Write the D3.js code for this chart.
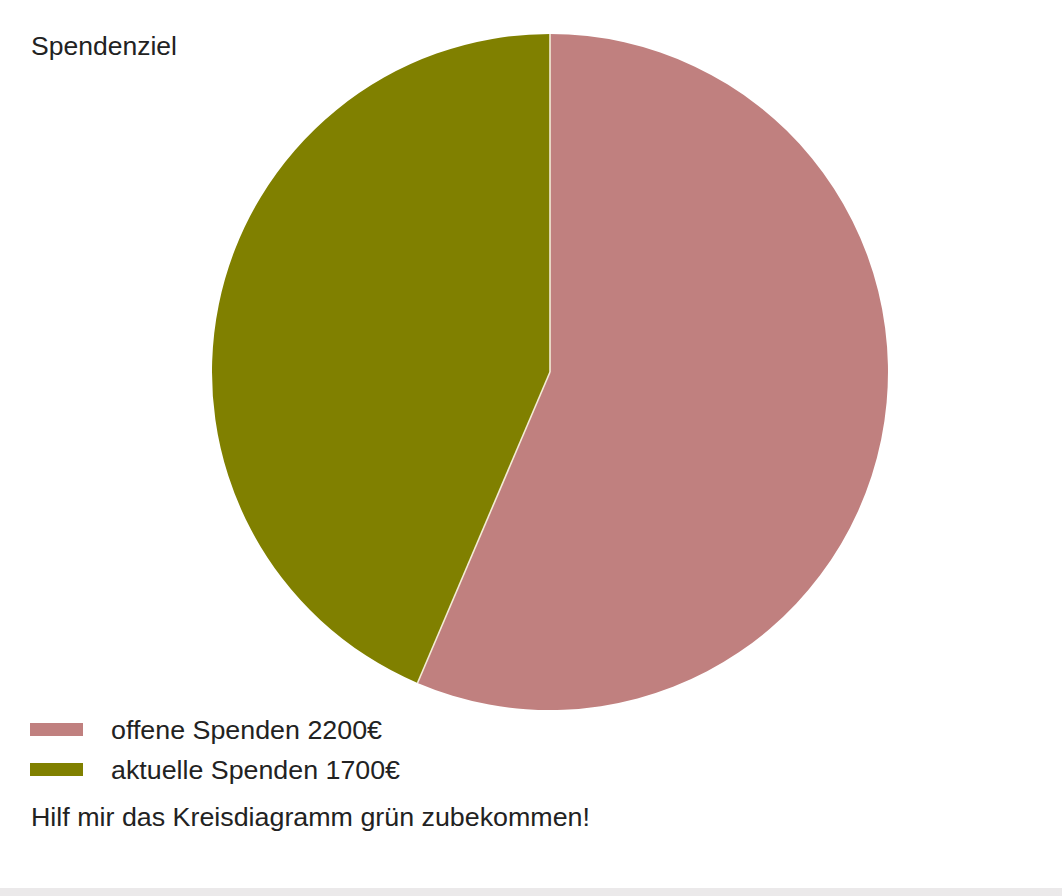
<!DOCTYPE html>
<html><head><meta charset="utf-8">
<script src="https://cdn.jsdelivr.net/npm/d3@7"></script>
<style>html,body{margin:0;padding:0;background:#fff;}svg{display:block;}</style>
</head><body>
<svg id="chart" width="1062" height="896"></svg>
<script>
const title = "Spendenziel";
const categories = ["offene Spenden 2200€", "aktuelle Spenden 1700€"];
const values = [2200, 1700];
const colors = ["#c0807f", "#808000"];
const footer = "Hilf mir das Kreisdiagramm grün zubekommen!";

const svg = d3.select("#chart");
const font = "'Liberation Sans', Arial, sans-serif";

svg.append("rect").attr("x", 0).attr("y", 888).attr("width", 1062).attr("height", 8).attr("fill", "#ebe9ea");

svg.append("text").attr("x", 31).attr("y", 54.5).attr("font-family", font).attr("font-size", 25.5)
  .attr("textLength", 146).attr("lengthAdjust", "spacingAndGlyphs")
  .attr("fill", "#222").text(title);

const cx = 550, cy = 372, r = 338;
const pie = d3.pie().sort(null).value(d => d)(values);
const arc = d3.arc().innerRadius(0).outerRadius(r);
const g = svg.append("g").attr("transform", `translate(${cx},${cy})`);
g.selectAll("path").data(pie).join("path")
  .attr("d", arc)
  .attr("fill", (d, i) => colors[i]);
// slice separators
g.selectAll("line.sep").data(pie).join("line")
  .attr("class", "sep")
  .attr("x1", 0).attr("y1", 0)
  .attr("x2", d => r * Math.sin(d.startAngle))
  .attr("y2", d => -r * Math.cos(d.startAngle))
  .attr("stroke", "#f3ecd6").attr("stroke-width", 1.6);

const legendWidths = [271, 289];
const leg = svg.append("g");
categories.forEach((c, i) => {
  leg.append("rect").attr("x", 30).attr("y", 723 + i * 40).attr("width", 53).attr("height", 13).attr("fill", colors[i]);
  leg.append("text").attr("x", 111).attr("y", 738.5 + i * 40).attr("font-family", font).attr("font-size", 25)
    .attr("textLength", legendWidths[i]).attr("lengthAdjust", "spacingAndGlyphs")
    .attr("fill", "#222").text(c);
});

svg.append("text").attr("x", 31).attr("y", 826).attr("font-family", font).attr("font-size", 25)
  .attr("textLength", 559).attr("lengthAdjust", "spacingAndGlyphs")
  .attr("fill", "#222").text(footer);
</script>
</body></html>
